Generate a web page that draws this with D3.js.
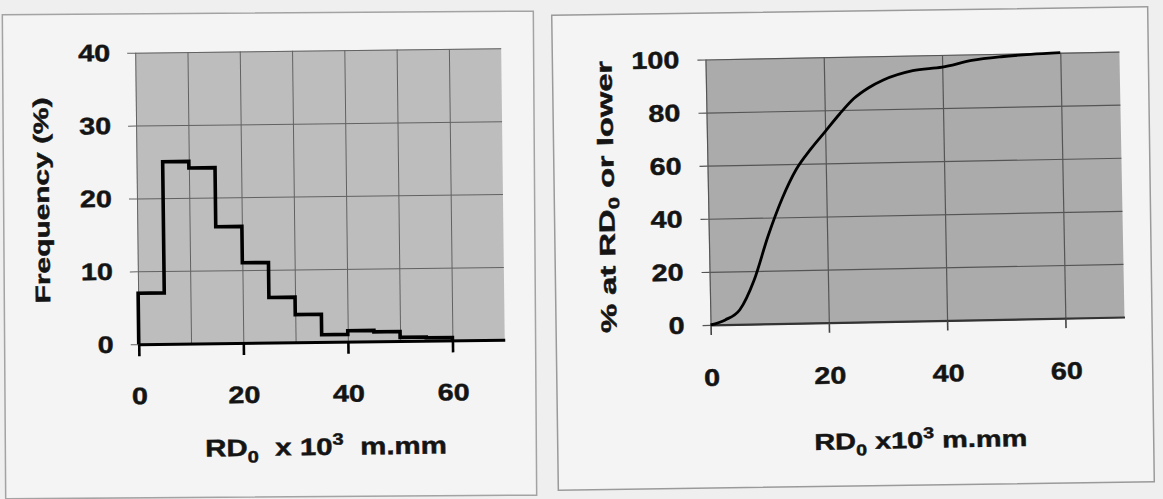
<!DOCTYPE html>
<html>
<head>
<meta charset="utf-8">
<script src="https://cdn.jsdelivr.net/npm/d3@7"></script>
<style>
  body { margin: 0; background: #efefef; }
  svg { display: block; }
  text { font-family: "Liberation Sans", Arial, sans-serif; font-weight: bold; fill: #141414;
         stroke: #141414; stroke-width: 0.45px; white-space: pre; }
</style>
</head>
<body>
<svg id="chart" width="1163" height="499"></svg>
<script>
// Histogram of RD0 (bins of 5 x10^3 m.mm), frequency in %
const binStarts = [0, 5, 10, 15, 20, 25, 30, 35, 40, 45, 50, 55];
const binWidth = 5;
const frequency = [7.0, 25.0, 24.1, 16.0, 11.0, 6.2, 3.8, 1.0, 1.5, 1.3, 0.5, 0.4];

// Cumulative distribution: % of sections at RD0 or lower
const cumRD = [0, 2.5, 5, 7.5, 10, 12.5, 15, 17.5, 20, 22.5, 25, 27.5, 30, 35, 40, 45, 50, 55, 60];
const cumPct = [0, 1.8, 5.5, 16.5, 33, 47, 58, 65.5, 72, 78.5, 84.3, 88.2, 91, 94.3, 95.4, 97.7, 98.9, 99.6, 100];

// Axis ticks
const freqTicks = [0, 10, 20, 30, 40];
const pctTicks = [0, 20, 40, 60, 80, 100];
const rdTickLabels = [0, 20, 40, 60];
const rdGridLeft = [0, 10, 20, 30, 40, 50, 60];
const rdGridRight = [0, 20, 40, 60];

const svg = d3.select("#chart");
const TICK_FONT = 24;
const TICK_STRETCH = 1.2;

// stretch a text element horizontally so it spans `target` px
function fitText(sel, x, y, target, rotate) {
  const w = sel.node().getBBox().width;
  const sx = target / w;
  sel.attr("transform", `translate(${x},${y})` + (rotate ? ` rotate(${rotate})` : "") + ` scale(${sx},1)`);
}

// axis label with subscript / superscript parts
function richLabel(g, parts, size) {
  const t = g.append("text").attr("text-anchor", "middle").style("font-size", size + "px");
  let shift = 0;
  parts.forEach(p => {
    const ts = t.append("tspan").text(p.s);
    let target = 0;
    if (p.sub) { ts.style("font-size", (size * 0.68) + "px"); target = size * 0.28; }
    if (p.sup) { ts.style("font-size", (size * 0.68) + "px"); target = -size * 0.42; }
    ts.attr("dy", target - shift);
    shift = target;
  });
  return t;
}

function styleTickText(axisG, offset) {
  axisG.selectAll(".tick text")
    .style("font-size", TICK_FONT + "px")
    .attr("x", null)
    .attr("transform", `translate(${offset},0) scale(${TICK_STRETCH},1)`);
}

// ---------- panel frames ----------
svg.append("rect").attr("x", 4).attr("y", 13).attr("width", 531).attr("height", 484)
  .attr("fill", "#f4f4f4").attr("stroke", "#a3a3a3").attr("stroke-width", 1.5)
  .attr("transform", "rotate(-0.4,270,255)");
svg.append("rect").attr("x", 555).attr("y", 11).attr("width", 596).attr("height", 475)
  .attr("fill", "#f4f4f4").attr("stroke", "#9a9a9a").attr("stroke-width", 1.5)
  .attr("transform", "rotate(-0.8,853,248)");

// ---------- left panel: frequency histogram ----------
{
  const g = svg.append("g").attr("transform", "rotate(-0.7,320,200)");
  const x = d3.scaleLinear().domain([0, 70]).range([137, 503]);
  const y = d3.scaleLinear().domain([0, 40]).range([342, 50.5]);
  const W = x(70) - x(0), H = y(0) - y(40);

  g.append("rect").attr("x", x(0)).attr("y", y(40)).attr("width", W).attr("height", H).attr("fill", "#bdbdbd");

  // horizontal grid
  g.append("g").attr("transform", `translate(${x(0)},0)`)
    .call(d3.axisLeft(y).tickValues(freqTicks).tickSize(-W).tickFormat(""))
    .call(a => a.select(".domain").remove())
    .call(a => a.selectAll("line").attr("stroke", "#626262").attr("stroke-width", 1));
  // vertical grid
  g.append("g").attr("transform", `translate(0,${y(0)})`)
    .call(d3.axisBottom(x).tickValues(rdGridLeft).tickSize(-H).tickFormat(""))
    .call(a => a.select(".domain").remove())
    .call(a => a.selectAll("line").attr("stroke", "#626262").attr("stroke-width", 1));

  // y axis ticks + labels
  const ya = g.append("g").attr("transform", `translate(${x(0)},0)`)
    .call(d3.axisLeft(y).tickValues(freqTicks).tickSize(8).tickPadding(17))
    .call(a => a.select(".domain").remove())
    .call(a => a.selectAll("line").attr("stroke", "#626262").attr("stroke-width", 1));
  styleTickText(ya, -25);

  // histogram outline
  const lastEdge = binStarts[binStarts.length - 1] + binWidth;
  const pts = [[0, 0]].concat(binStarts.map((b, i) => [b, frequency[i]]))
    .concat([[lastEdge, frequency[frequency.length - 1]], [lastEdge, 0]]);
  g.append("path").attr("d", d3.line().x(d => x(d[0])).y(d => y(d[1])).curve(d3.curveStepAfter)(pts))
    .attr("fill", "none").attr("stroke", "#000").attr("stroke-width", 3.6).attr("stroke-linejoin", "miter");

  // x axis (zero line) with ticks + labels
  const xa = g.append("g").attr("transform", `translate(0,${y(0)})`)
    .call(d3.axisBottom(x).tickValues(rdTickLabels).tickSize(12).tickPadding(31).tickSizeOuter(0))
    .call(a => a.select(".domain").attr("stroke", "#000").attr("stroke-width", 3))
    .call(a => a.selectAll(".tick line").attr("stroke", "#000").attr("stroke-width", 2.6));
  xa.selectAll(".tick text").style("font-size", TICK_FONT + "px").attr("y", null).attr("dy", null)
    .attr("transform", `translate(0,60) scale(${TICK_STRETCH},1)`);

  // axis titles
  const xt = richLabel(g, [{ s: "RD" }, { s: "0", sub: true }, { s: "  x 10" }, { s: "3", sup: true }, { s: "  m.mm" }], 24);
  fitText(xt, 323, 455, 242);
  const yt = g.append("text").attr("text-anchor", "middle").style("font-size", "21px").text("Frequency (%)");
  fitText(yt, 49, 197, 206, -90);
}

// ---------- right panel: cumulative curve ----------
{
  const g = svg.append("g").attr("transform", "rotate(-1.1,915,190)");
  const x = d3.scaleLinear().domain([0, 70]).range([708, 1122]);
  const y = d3.scaleLinear().domain([0, 100]).range([321, 55.5]);
  const W = x(70) - x(0), H = y(0) - y(100);

  g.append("rect").attr("x", x(0)).attr("y", y(100)).attr("width", W).attr("height", H).attr("fill", "#ababab");

  g.append("g").attr("transform", `translate(${x(0)},0)`)
    .call(d3.axisLeft(y).tickValues(pctTicks).tickSize(-W).tickFormat(""))
    .call(a => a.select(".domain").remove())
    .call(a => a.selectAll("line").attr("stroke", "#555").attr("stroke-width", 1.2));
  g.append("g").attr("transform", `translate(0,${y(0)})`)
    .call(d3.axisBottom(x).tickValues(rdGridRight).tickSize(-H).tickFormat(""))
    .call(a => a.select(".domain").remove())
    .call(a => a.selectAll("line").attr("stroke", "#555").attr("stroke-width", 1.2));

  const ya = g.append("g").attr("transform", `translate(${x(0)},0)`)
    .call(d3.axisLeft(y).tickValues(pctTicks).tickSize(8).tickPadding(18))
    .call(a => a.select(".domain").remove())
    .call(a => a.selectAll("line").attr("stroke", "#555").attr("stroke-width", 1.2));
  styleTickText(ya, -26);

  const xa = g.append("g").attr("transform", `translate(0,${y(0)})`)
    .call(d3.axisBottom(x).tickValues(rdTickLabels).tickSize(10).tickPadding(34).tickSizeOuter(0))
    .call(a => a.select(".domain").attr("stroke", "#333").attr("stroke-width", 2.2))
    .call(a => a.selectAll(".tick line").attr("stroke", "#444").attr("stroke-width", 1.6));
  xa.selectAll(".tick text").style("font-size", TICK_FONT + "px").attr("y", null).attr("dy", null)
    .attr("transform", `translate(0,61) scale(${TICK_STRETCH},1)`);

  const line = d3.line().x((d, i) => x(cumRD[i])).y(d => y(d)).curve(d3.curveMonotoneX);
  g.append("path").attr("d", line(cumPct))
    .attr("fill", "none").attr("stroke", "#000").attr("stroke-width", 2.8);

  const xt = richLabel(g, [{ s: "RD" }, { s: "0", sub: true }, { s: " x10" }, { s: "3", sup: true }, { s: " m.mm" }], 23);
  fitText(xt, 916, 448, 213);
  const yt = g.append("text").attr("text-anchor", "middle").style("font-size", "22px")
    .text("% at RD").call(t => t.append("tspan").style("font-size", "15px").attr("dy", 5).text("0"))
    .call(t => t.append("tspan").attr("dy", -5).text(" or lower"));
  fitText(yt, 614, 191, 273, -90);
}
</script>
</body>
</html>
